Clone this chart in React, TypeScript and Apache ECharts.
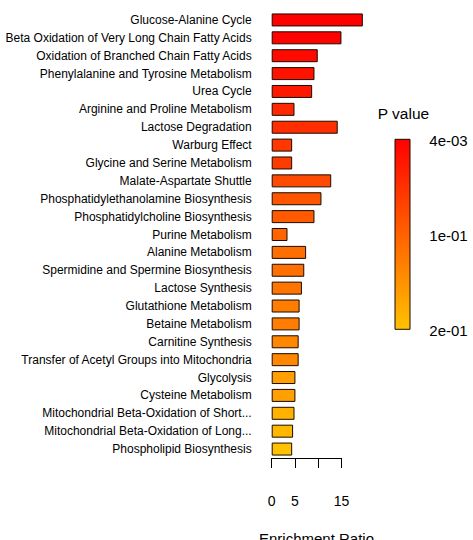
import React, { useEffect, useRef } from "react";
import * as echarts from "echarts";

// Pathways, top to bottom
const pathways = [
  "Glucose-Alanine Cycle",
  "Beta Oxidation of Very Long Chain Fatty Acids",
  "Oxidation of Branched Chain Fatty Acids",
  "Phenylalanine and Tyrosine Metabolism",
  "Urea Cycle",
  "Arginine and Proline Metabolism",
  "Lactose Degradation",
  "Warburg Effect",
  "Glycine and Serine Metabolism",
  "Malate-Aspartate Shuttle",
  "Phosphatidylethanolamine Biosynthesis",
  "Phosphatidylcholine Biosynthesis",
  "Purine Metabolism",
  "Alanine Metabolism",
  "Spermidine and Spermine Biosynthesis",
  "Lactose Synthesis",
  "Glutathione Metabolism",
  "Betaine Metabolism",
  "Carnitine Synthesis",
  "Transfer of Acetyl Groups into Mitochondria",
  "Glycolysis",
  "Cysteine Metabolism",
  "Mitochondrial Beta-Oxidation of Short...",
  "Mitochondrial Beta-Oxidation of Long...",
  "Phospholipid Biosynthesis",
];

// Enrichment ratio per pathway
const enrichmentRatio = [
  19.6, 15.0, 9.9, 9.2, 8.7, 4.9, 14.2, 4.4, 4.4, 12.8, 10.7, 9.2, 3.4, 7.4,
  7.0, 6.5, 6.0, 6.0, 5.8, 5.8, 5.1, 5.1, 4.9, 4.6, 4.4,
];

// P value per pathway
const pValues = [
  0.004, 0.006, 0.014, 0.022, 0.028, 0.044, 0.05, 0.06, 0.065, 0.08, 0.09,
  0.095, 0.105, 0.115, 0.117, 0.122, 0.13, 0.13, 0.14, 0.14, 0.165, 0.165,
  0.185, 0.19, 0.2,
];

// Colour scale
const pMin = 0.004;
const pMax = 0.2;
const colorLow = "#FF0000";
const colorHigh = "#FFC200";

// Axis ticks and colour-bar labels
const axisMin = 0;
const axisMax = 15;
const axisInterval = 5;
const hiddenTicks = [10];
const pLabels = ["4e-03", "1e-01", "2e-01"];

const FONT = "Liberation Sans, Arial, sans-serif";

export default function App() {
  const ref = useRef<HTMLDivElement>(null);

  useEffect(() => {
    if (!ref.current) return;
    const chart = echarts.init(ref.current, undefined, { renderer: "svg" });

    const left = 271.7;
    const unit = 4.65; // pixels per ratio unit
    const top = 11;
    const height = 447;

    const barLeft = 395;
    const barTop = 139.3;
    const barW = 15;
    const barH = 190;

    chart.setOption({
      animation: false,
      backgroundColor: "#ffffff",
      textStyle: { fontFamily: FONT },
      grid: [
        { left, top, height, width: unit * 20 },
        { left, top, height, width: unit * axisMax },
      ],
      xAxis: [
        { gridIndex: 0, type: "value", min: 0, max: 20, show: false },
        {
          gridIndex: 1,
          type: "value",
          min: axisMin,
          max: axisMax,
          interval: axisInterval,
          offset: 13,
          splitLine: { show: false },
          axisLine: { show: true, lineStyle: { color: "#000", width: 1 } },
          axisTick: { show: true, length: 10, lineStyle: { color: "#000", width: 1 } },
          axisLabel: {
            margin: 23,
            fontSize: 14,
            color: "#000",
            fontFamily: FONT,
            formatter: (v: number) => (hiddenTicks.includes(v) ? "" : String(v)),
          },
        },
      ],
      yAxis: [
        {
          gridIndex: 0,
          type: "category",
          inverse: true,
          data: pathways,
          axisLine: { show: false },
          axisTick: { show: false },
          axisLabel: { margin: 20, fontSize: 12, color: "#000", fontFamily: FONT },
        },
        { gridIndex: 1, type: "value", show: false },
      ],
      visualMap: {
        type: "continuous",
        show: false,
        seriesIndex: 0,
        dimension: 2,
        min: pMin,
        max: pMax,
        inRange: { color: [colorLow, colorHigh] },
      },
      series: [
        {
          type: "bar",
          xAxisIndex: 0,
          yAxisIndex: 0,
          barWidth: 13,
          encode: { x: 0, y: 1 },
          data: pathways.map((name, i) => [enrichmentRatio[i], name, pValues[i]]),
          itemStyle: { borderColor: "#1a0a00", borderWidth: 1 },
        },
      ],
      graphic: [
        {
          type: "text",
          x: 316.5,
          y: 538,
          style: {
            text: "Enrichment Ratio",
            fontSize: 15,
            fontFamily: FONT,
            fill: "#000",
            align: "center",
            verticalAlign: "middle",
          },
        },
        {
          type: "text",
          x: 377.7,
          y: 113.3,
          style: {
            text: "P value",
            fontSize: 15.5,
            fontFamily: FONT,
            fill: "#000",
            align: "left",
            verticalAlign: "middle",
          },
        },
        {
          type: "rect",
          shape: { x: barLeft, y: barTop, width: barW, height: barH },
          style: {
            fill: new echarts.graphic.LinearGradient(0, 0, 0, 1, [
              { offset: 0, color: colorLow },
              { offset: 1, color: colorHigh },
            ]),
            stroke: "#1a0a00",
            lineWidth: 1,
          },
        },
        ...pLabels.map((t, i) => ({
          type: "text",
          x: 429.3,
          y: barTop + 1.4 + (i * barH) / (pLabels.length - 1),
          style: {
            text: t,
            fontSize: 15,
            fontFamily: FONT,
            fill: "#000",
            align: "left",
            verticalAlign: "middle",
          },
        })),
      ],
    });

    return () => chart.dispose();
  }, []);

  return (
    <div
      ref={ref}
      style={{ position: "absolute", left: 0, top: 0, width: 473, height: 540 }}
    />
  );
}
